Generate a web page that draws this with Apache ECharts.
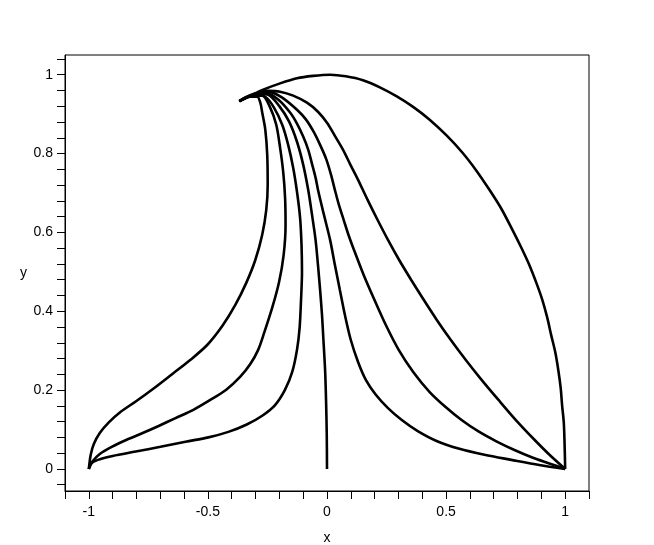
<!DOCTYPE html>
<html>
<head>
<meta charset="utf-8">
<script src="https://cdn.jsdelivr.net/npm/echarts@6/dist/echarts.min.js"></script>
<style>
  html, body { margin: 0; padding: 0; background: #fff; }
  #main { width: 654px; height: 545px; }
</style>
</head>
<body>
<div id="main"></div>
<script>
  // tick positions and labels
  var xTicks = [-1.1, -1, -0.9, -0.8, -0.7, -0.6, -0.5, -0.4, -0.3, -0.2, -0.1, 0,
    0.1, 0.2, 0.3, 0.4, 0.5, 0.6, 0.7, 0.8, 0.9, 1, 1.1]
  var xLabels = [-1, -0.5, 0, 0.5, 1]
  var yTicks = [-0.04, 0, 0.04, 0.08, 0.12, 0.16, 0.2, 0.24, 0.28, 0.32, 0.36, 0.4, 0.44,
    0.48, 0.52, 0.56, 0.6, 0.64, 0.68, 0.72, 0.76, 0.8, 0.84, 0.88, 0.92, 0.96, 1, 1.04]
  var yLabels = [0, 0.2, 0.4, 0.6, 0.8, 1]

  // curves, [x, y]
  var arcCurve = [[-0.368, 0.933], [-0.318, 0.948], [-0.268, 0.962], [-0.197, 0.978], [-0.126, 0.991],
    [-0.059, 0.997], [0.013, 1.0], [0.079, 0.996], [0.151, 0.986], [0.222, 0.968], [0.293, 0.945],
    [0.36, 0.919], [0.431, 0.886], [0.502, 0.846], [0.569, 0.802], [0.628, 0.756], [0.682, 0.708],
    [0.732, 0.66], [0.778, 0.607], [0.816, 0.561], [0.849, 0.518], [0.879, 0.472], [0.904, 0.429],
    [0.925, 0.383], [0.941, 0.34], [0.958, 0.297], [0.971, 0.251], [0.981, 0.206], [0.987, 0.162],
    [0.994, 0.119], [0.997, 0.074], [1, 0]]
  var leftUpper = [[-0.368, 0.933], [-0.322, 0.944], [-0.293, 0.944], [-0.28, 0.929], [-0.272, 0.904],
    [-0.259, 0.86], [-0.251, 0.797], [-0.249, 0.721], [-0.255, 0.657], [-0.272, 0.594], [-0.301, 0.53],
    [-0.339, 0.472], [-0.385, 0.416], [-0.439, 0.363], [-0.502, 0.315], [-0.573, 0.277], [-0.649, 0.241],
    [-0.728, 0.204], [-0.803, 0.171], [-0.866, 0.145], [-0.916, 0.118], [-0.954, 0.091], [-0.979, 0.063],
    [-0.992, 0.036], [-1, 0]]
  var leftMiddle = [[-0.368, 0.933], [-0.314, 0.947], [-0.272, 0.947], [-0.238, 0.916], [-0.213, 0.873],
    [-0.197, 0.815], [-0.184, 0.754], [-0.176, 0.688], [-0.174, 0.619], [-0.182, 0.543], [-0.201, 0.475],
    [-0.23, 0.409], [-0.264, 0.345], [-0.289, 0.302], [-0.322, 0.266], [-0.364, 0.234], [-0.423, 0.201],
    [-0.49, 0.175], [-0.561, 0.15], [-0.636, 0.129], [-0.707, 0.109], [-0.774, 0.091], [-0.841, 0.074],
    [-0.904, 0.056], [-0.954, 0.038], [-0.983, 0.02], [-1, 0]]
  var leftLower = [[-0.368, 0.933], [-0.305, 0.949], [-0.259, 0.944], [-0.222, 0.916], [-0.188, 0.873],
    [-0.163, 0.822], [-0.142, 0.764], [-0.126, 0.703], [-0.113, 0.637], [-0.107, 0.569], [-0.105, 0.5],
    [-0.109, 0.429], [-0.115, 0.358], [-0.126, 0.302], [-0.146, 0.246], [-0.176, 0.201], [-0.218, 0.162],
    [-0.272, 0.135], [-0.339, 0.112], [-0.414, 0.094], [-0.498, 0.08], [-0.594, 0.069], [-0.699, 0.056],
    [-0.803, 0.044], [-0.9, 0.033], [-0.962, 0.023], [-0.992, 0.013], [-1, 0]]
  var centerCurve = [[-0.368, 0.933], [-0.297, 0.952], [-0.247, 0.949], [-0.201, 0.921], [-0.159, 0.881],
    [-0.126, 0.83], [-0.1, 0.772], [-0.079, 0.708], [-0.063, 0.645], [-0.048, 0.581], [-0.038, 0.518],
    [-0.029, 0.454], [-0.021, 0.391], [-0.015, 0.327], [-0.008, 0.251], [-0.004, 0.175], [-0.001, 0.086],
    [0, 0]]
  var rightLower = [[-0.368, 0.933], [-0.297, 0.952], [-0.255, 0.954], [-0.205, 0.937], [-0.155, 0.904],
    [-0.126, 0.876], [-0.1, 0.843], [-0.079, 0.81], [-0.063, 0.774], [-0.048, 0.739], [-0.036, 0.703],
    [-0.013, 0.645], [0.013, 0.581], [0.033, 0.518], [0.054, 0.454], [0.075, 0.391], [0.1, 0.327],
    [0.13, 0.272], [0.163, 0.226], [0.205, 0.188], [0.255, 0.155], [0.314, 0.124], [0.381, 0.096],
    [0.46, 0.071], [0.556, 0.051], [0.661, 0.036], [0.774, 0.023], [0.891, 0.01], [1, 0]]
  var rightMiddle = [[-0.368, 0.933], [-0.297, 0.952], [-0.247, 0.957], [-0.188, 0.942], [-0.126, 0.911],
    [-0.088, 0.886], [-0.054, 0.853], [-0.029, 0.822], [-0.004, 0.787], [0.017, 0.746], [0.033, 0.708],
    [0.05, 0.67], [0.07, 0.632], [0.09, 0.594], [0.113, 0.556], [0.154, 0.492], [0.199, 0.429],
    [0.247, 0.365], [0.301, 0.302], [0.362, 0.246], [0.431, 0.195], [0.498, 0.157], [0.565, 0.124],
    [0.636, 0.095], [0.711, 0.07], [0.787, 0.048], [0.862, 0.029], [0.933, 0.014], [1, 0]]
  var rightUpper = [[-0.368, 0.933], [-0.297, 0.952], [-0.247, 0.959], [-0.197, 0.957], [-0.142, 0.947],
    [-0.084, 0.929], [-0.038, 0.906], [0, 0.878], [0.033, 0.845], [0.067, 0.81], [0.098, 0.772],
    [0.13, 0.734], [0.17, 0.683], [0.212, 0.632], [0.256, 0.581], [0.303, 0.53], [0.353, 0.48],
    [0.406, 0.429], [0.461, 0.378], [0.52, 0.327], [0.582, 0.277], [0.649, 0.226], [0.72, 0.175],
    [0.793, 0.124], [0.871, 0.074], [0.934, 0.036], [1, 0]]

  var curves = [arcCurve, leftUpper, leftMiddle, leftLower, centerCurve, rightLower, rightMiddle, rightUpper]

  var font = 'Liberation Sans, Arial, sans-serif'

  var chart = echarts.init(document.getElementById('main'))
  chart.setOption({
    animation: false,
    backgroundColor: '#fff',
    grid: {
      left: 65,
      right: 65,
      top: 55,
      bottom: 54,
      outerBoundsMode: 'none',
      show: true,
      borderColor: '#000',
      borderWidth: 1
    },
    xAxis: {
      type: 'value',
      min: -1.1,
      max: 1.1,
      name: 'x',
      nameLocation: 'middle',
      nameGap: 40,
      nameTextStyle: { color: '#000', fontSize: 14, fontFamily: font },
      axisLine: { show: true, onZero: false, lineStyle: { color: '#000', width: 1 } },
      axisTick: { show: true, length: 8, customValues: xTicks, lineStyle: { color: '#000' } },
      axisLabel: {
        customValues: xLabels,
        margin: 14,
        color: '#000',
        fontSize: 14,
        fontFamily: font
      },
      splitLine: { show: false }
    },
    yAxis: {
      type: 'value',
      min: -0.056,
      max: 1.05,
      name: 'y',
      nameLocation: 'middle',
      nameRotate: 0,
      nameGap: 38,
      nameTextStyle: { color: '#000', fontSize: 14, fontFamily: font },
      axisLine: { show: true, onZero: false, lineStyle: { color: '#000', width: 1 } },
      axisTick: { show: true, length: 8, customValues: yTicks, lineStyle: { color: '#000' } },
      axisLabel: {
        customValues: yLabels,
        margin: 12,
        color: '#000',
        fontSize: 14,
        fontFamily: font
      },
      splitLine: { show: false }
    },
    series: curves.map(function (c) {
      return {
        type: 'line',
        data: c,
        showSymbol: false,
        symbol: 'none',
        smooth: 0.3,
        lineStyle: { color: '#000', width: 2.6 }
      }
    })
  })
</script>
</body>
</html>
